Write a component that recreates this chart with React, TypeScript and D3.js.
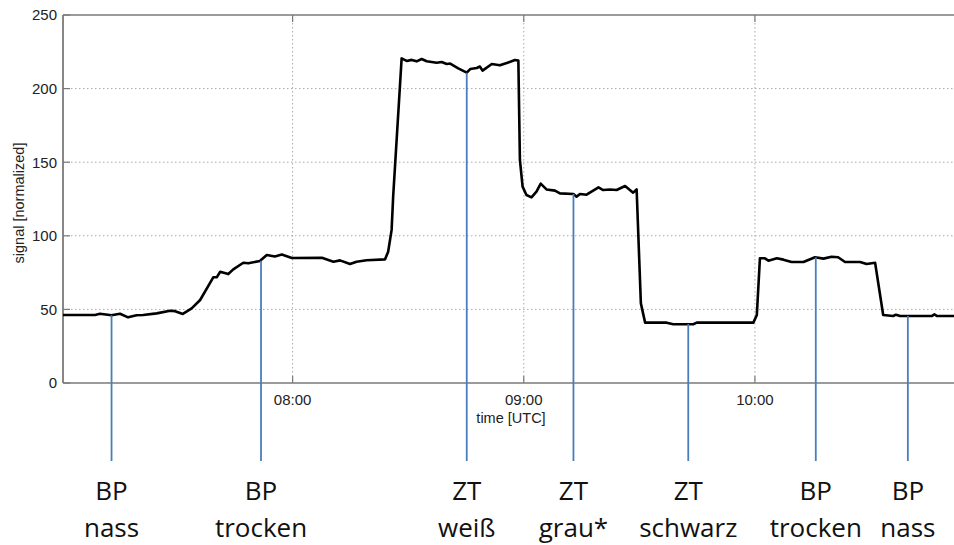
import React from "react";
import * as d3 from "d3";

// minutes since 07:00 UTC
const timeMin = [0.4, 8.7, 10.0, 13.0, 15.2, 17.3, 19.5, 21.2, 24.7, 28.2, 29.5, 31.5, 33.8, 36.0, 39.4, 40.3, 41.2, 43.3, 44.6, 47.2, 48.5, 51.5, 53.3, 55.4, 57.2, 59.8, 67.6, 70.6, 72.3, 74.9, 76.6, 79.2, 84.0, 84.8, 85.7, 86.1, 88.3, 89.6, 90.9, 92.2, 93.5, 94.8, 97.4, 98.7, 100.0, 100.9, 103.0, 105.2, 106.1, 107.8, 108.6, 109.3, 111.7, 113.8, 115.6, 117.7, 118.6, 119.0, 119.7, 120.7, 122.0, 123.3, 124.4, 125.9, 128.1, 129.4, 132.9, 133.7, 134.6, 136.3, 139.4, 140.6, 142.4, 144.1, 146.3, 148.4, 149.3, 150.4, 151.5, 157.1, 158.8, 164.0, 164.9, 179.6, 180.5, 181.3, 182.6, 183.5, 185.7, 187.4, 189.5, 192.6, 195.6, 197.8, 199.9, 201.6, 203.4, 207.3, 209.0, 211.2, 213.3, 215.9, 216.6, 217.7, 225.9, 226.6, 227.3, 233.2];
const signal = [46.2, 46.2, 47, 46, 47, 44.6, 46, 46.2, 47.3, 49.1, 48.8, 46.9, 50.7, 56.4, 71.8, 71.8, 75.6, 74, 77.2, 81.7, 81.3, 82.9, 87, 86, 87.3, 84.9, 85.1, 82.4, 83.3, 80.8, 82.4, 83.4, 84, 89.2, 104, 126.6, 220.5, 218.8, 219.5, 218.5, 220.1, 218.6, 217.6, 218.1, 216.7, 217, 213.8, 210.8, 213.3, 214, 215, 212.2, 216.7, 215.8, 217.4, 219.4, 219, 151.5, 133.4, 127.7, 126.1, 130, 135.4, 131.5, 130.7, 128.8, 128.4, 126.6, 128.4, 127.9, 132.9, 131.1, 131.5, 131.1, 133.8, 129.3, 131.5, 54.1, 41, 41, 39.9, 39.9, 41, 41, 46.2, 84.7, 84.7, 83.1, 84.7, 83.8, 82.2, 82.2, 85.4, 84.5, 85.8, 85.4, 82.2, 82.2, 80.8, 81.7, 46.2, 45.5, 46.4, 45.5, 45.5, 46.6, 45.5, 45.5];

const yTicks = [0, 50, 100, 150, 200, 250];
const xTicks = [60, 120, 180];
const xTickLabels = ["08:00", "09:00", "10:00"];

const markerTimes = [13.0, 51.8, 105.2, 132.9, 162.7, 195.8, 219.7];
const markerValues = [46, 83, 210.8, 128.4, 40, 85.4, 45.5];
const markerLine1 = ["BP", "BP", "ZT", "ZT", "ZT", "BP", "BP"];
const markerLine2 = ["nass", "trocken", "weiß", "grau*", "schwarz", "trocken", "nass"];

const W = 954;
const H = 545;
const left = 63;
const top = 15;
const bottom = 383;

export default function App() {
  const x = d3.scaleLinear().domain([0.4, 240]).range([left, left + 239.6 * 3.8525]);
  const y = d3.scaleLinear().domain([0, 250]).range([bottom, top]);
  const right = x(240);
  const pts = timeMin.map((t, i) => [t, signal[i]] as [number, number]);
  const line = d3.line<[number, number]>().x((d) => x(d[0])).y((d) => y(d[1]));
  const tickFont = "'Liberation Sans', Arial, Helvetica, sans-serif";
  const gridColor = "#a8a8a8";
  const axisColor = "#7a7a7a";
  return (
    <svg
      width={W}
      height={H}
      style={{ position: "absolute", left: 0, top: 0, background: "#fff", overflow: "hidden" }}
    >
      <defs>
        <clipPath id="plotclip">
          <rect x={left} y={top} width={right - left} height={bottom - top} />
        </clipPath>
      </defs>
      {/* grid */}
      {yTicks.filter((v) => v > 0 && v < 250).map((v) => (
        <line key={"gy" + v} x1={left} x2={right} y1={y(v)} y2={y(v)} stroke={gridColor} strokeWidth={1} strokeDasharray="1.5,2.5" />
      ))}
      {xTicks.map((t) => (
        <line key={"gx" + t} x1={x(t)} x2={x(t)} y1={top} y2={bottom} stroke={gridColor} strokeWidth={1} strokeDasharray="1.5,2.5" />
      ))}
      {/* ticks */}
      {yTicks.map((v) => (
        <line key={"ty" + v} x1={left} x2={left + 7} y1={y(v)} y2={y(v)} stroke={axisColor} strokeWidth={1.2} />
      ))}
      {xTicks.map((t) => (
        <g key={"tx" + t}>
          <line x1={x(t)} x2={x(t)} y1={bottom} y2={bottom - 7} stroke={axisColor} strokeWidth={1.2} />
          <line x1={x(t)} x2={x(t)} y1={top} y2={top + 7} stroke={axisColor} strokeWidth={1.2} />
        </g>
      ))}
      {/* axes box */}
      <line x1={left} x2={right} y1={top} y2={top} stroke={axisColor} strokeWidth={1.6} />
      <line x1={left} x2={right} y1={bottom} y2={bottom} stroke={axisColor} strokeWidth={1.6} />
      <line x1={left} x2={left} y1={top} y2={bottom} stroke={axisColor} strokeWidth={1.8} />
      {/* tick labels */}
      {yTicks.map((v) => (
        <text key={"ly" + v} x={57} y={y(v)} dy="0.36em" textAnchor="end" fontFamily={tickFont} fontSize={15} fill="#222">
          {v}
        </text>
      ))}
      {xTicks.map((t, i) => (
        <text key={"lx" + t} x={x(t)} y={405} textAnchor="middle" fontFamily={tickFont} fontSize={15} fill="#222">
          {xTickLabels[i]}
        </text>
      ))}
      <text x={511} y={423} textAnchor="middle" fontFamily={tickFont} fontSize={14.5} fill="#222">
        time [UTC]
      </text>
      <text
        transform={`translate(24,${203}) rotate(-90)`}
        textAnchor="middle"
        fontFamily={tickFont}
        fontSize={14.5}
        fill="#222"
      >
        signal [normalized]
      </text>
      {/* data line */}
      <path d={line(pts) || ""} fill="none" stroke="#000" strokeWidth={2.6} strokeLinejoin="round" clipPath="url(#plotclip)" />
      {/* markers */}
      {markerTimes.map((t, i) => (
        <g key={"m" + i}>
          <line x1={x(t)} x2={x(t)} y1={y(markerValues[i])} y2={461} stroke="#4a7ebb" strokeWidth={1.8} />
          <text x={x(t)} y={500} textAnchor="middle" fontFamily="'Open Sans', 'Noto Sans', sans-serif" fontSize={26} fill="#111">
            {markerLine1[i]}
          </text>
          <text x={x(t)} y={537} textAnchor="middle" fontFamily="'Open Sans', 'Noto Sans', sans-serif" fontSize={26} fill="#111">
            {markerLine2[i]}
          </text>
        </g>
      ))}
    </svg>
  );
}
